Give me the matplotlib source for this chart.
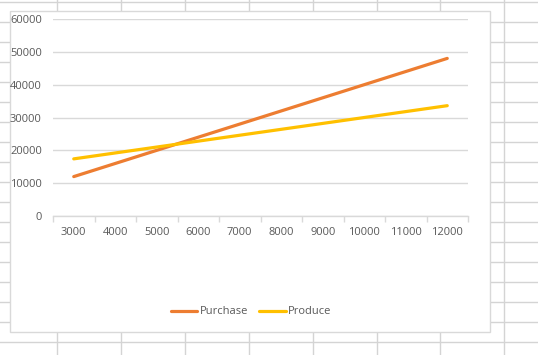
import numpy as np
import matplotlib.pyplot as plt
from matplotlib.lines import Line2D
from matplotlib.patches import Rectangle

# data
quantities = [3000, 4000, 5000, 6000, 7000, 8000, 9000, 10000, 11000, 12000]
purchase = [12000, 16000, 20000, 24000, 28000, 32000, 36000, 40000, 44000, 48000]
produce = [17400, 19200, 21000, 22800, 24600, 26400, 28200, 30000, 31800, 33600]

W, H = 538, 355
plt.rcParams['font.family'] = ['Open Sans', 'DejaVu Sans']
text_color = '#595959'
grid_color = '#d9d9d9'

fig = plt.figure(figsize=(W / 100, H / 100), dpi=100)
fig.patch.set_facecolor('white')

# spreadsheet cell lines behind the chart
for x in np.arange(57, W, 63.9):
    fig.add_artist(Line2D([x / W, x / W], [0, 1], color='#d4d4d4', lw=1, zorder=0))
for y in np.arange(2, H, 20):
    fig.add_artist(Line2D([0, 1], [1 - y / H, 1 - y / H], color='#d4d4d4', lw=1, zorder=0))

# chart area
fig.add_artist(Rectangle((10 / W, 1 - 332 / H), 480 / W, 321 / H, facecolor='white',
                         edgecolor=grid_color, lw=1, zorder=1))

ax = fig.add_axes([53 / W, 1 - 216 / H, 415 / W, 197 / H], zorder=2)
ax.set_facecolor('none')
idx = np.arange(len(quantities))
ax.plot(idx, purchase, color='#ED7D31', lw=2.3, solid_capstyle='round', label='Purchase', zorder=3)
ax.plot(idx, produce, color='#FFC000', lw=2.3, solid_capstyle='round', label='Produce', zorder=3)

ax.set_xlim(-0.5, len(quantities) - 0.5)
ax.set_ylim(0, 60000)
ax.set_yticks(np.arange(0, 60001, 10000))
ax.yaxis.grid(True, color=grid_color, lw=1)
ax.set_axisbelow(True)
ax.set_xticks(idx)
ax.set_xticklabels([str(q) for q in quantities])
ax.set_xticks(np.arange(-0.5, len(quantities)), minor=True)
ax.tick_params(axis='x', which='major', length=0, pad=8, labelsize=8, labelcolor=text_color)
ax.tick_params(axis='x', which='minor', length=4, color=grid_color, width=1)
ax.tick_params(axis='y', length=0, pad=8, labelsize=8, labelcolor=text_color)
for s in ['top', 'right', 'left']:
    ax.spines[s].set_visible(False)
ax.spines['bottom'].set_color(grid_color)
ax.spines['bottom'].set_linewidth(1)

fig.legend(loc='center', bbox_to_anchor=(251 / W, 1 - 312 / H), ncol=2, frameon=False,
           fontsize=8, labelcolor=text_color, handlelength=2.4, handletextpad=0.2,
           columnspacing=1.0)

fig.savefig('out.png', dpi=100)
